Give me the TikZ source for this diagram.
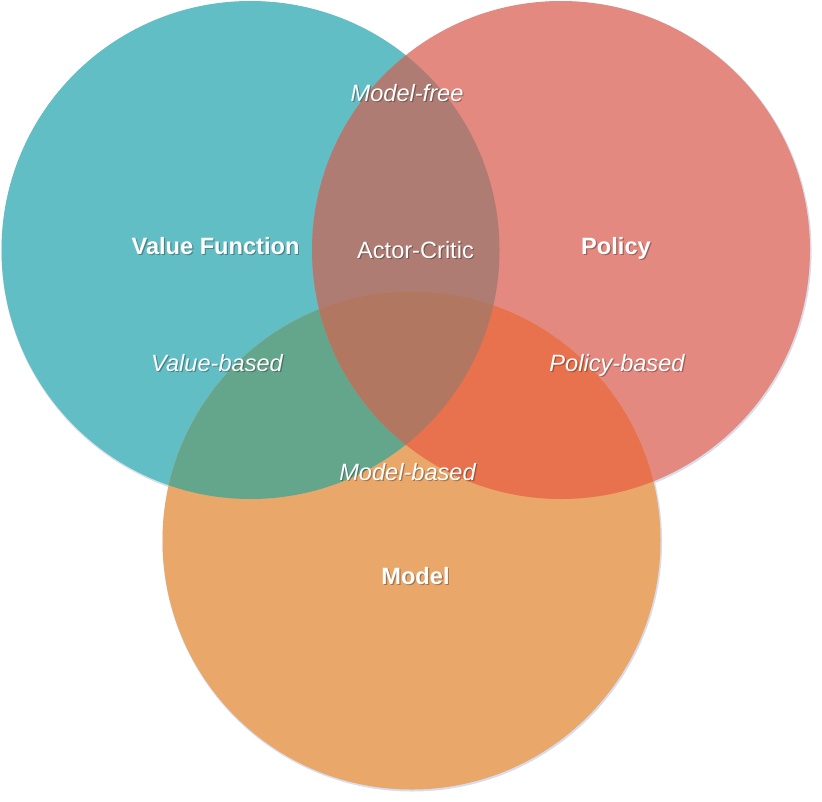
\documentclass[tikz,border=0pt]{standalone}
\usepackage{fontspec}
\setmainfont{Liberation Sans}
\usetikzlibrary{calc}
\definecolor{cT}{HTML}{62BEC5}
\definecolor{cR}{HTML}{E4897F}
\definecolor{cO}{HTML}{E9A76A}
\definecolor{cTR}{HTML}{AE7C73}
\definecolor{cTO}{HTML}{64A68C}
\definecolor{cRO}{HTML}{E7724D}
\definecolor{cTRO}{HTML}{B27760}
\definecolor{cShadow}{HTML}{C9CEE2}
\newcommand\vennfont{\fontsize{23.6bp}{28bp}\selectfont}
\tikzset{
  basetxt/.style={inner sep=0pt, anchor=base, font=\vennfont},
  fg/.style={basetxt, text=white},
  bg/.style={basetxt, text=black, text opacity=0.3},
  bf/.style={font=\vennfont\bfseries},
  it/.style={font=\vennfont\itshape},
  rm/.style={},
  circshadow/.style={fill=cShadow, opacity=0.7},
}
\newcommand\vennlabel[5]{%
  \node[bg,#4] (#1-shadow) at (#2+1.2,#3+1.4) {#5};
  \node[fg,#4] (#1) at (#2,#3) {#5};
}
\begin{document}
\begin{tikzpicture}[x=1bp,y=-1bp]
\useasboundingbox (0,0) rectangle (822,802);
\coordinate (T) at (250.5,250);
\coordinate (R) at (561,250);
\coordinate (O) at (411.5,540.5);
\def\rad{249}
% soft shadows
\foreach \c in {T,R,O}{
  \fill[circshadow] ($(\c)+(0.8,1.2)$) circle (\rad+0.8);
}
% base circles
\fill[cT] (T) circle (\rad);
\fill[cR] (R) circle (\rad);
\fill[cO] (O) circle (\rad);
% pairwise overlaps
\begin{scope}
  \clip (T) circle (\rad);
  \fill[cTR] (R) circle (\rad);
\end{scope}
\begin{scope}
  \clip (T) circle (\rad);
  \fill[cTO] (O) circle (\rad);
\end{scope}
\begin{scope}
  \clip (R) circle (\rad);
  \fill[cRO] (O) circle (\rad);
\end{scope}
% triple overlap
\begin{scope}
  \clip (T) circle (\rad);
  \clip (R) circle (\rad);
  \fill[cTRO] (O) circle (\rad);
\end{scope}
% labels
\vennlabel{modelfree}{407}{101}{it}{Model-free}
\vennlabel{valuefn}{215.5}{254}{bf}{Value Function}
\vennlabel{actorcritic}{415.5}{258}{rm}{Actor-Critic}
\vennlabel{policy}{616}{254}{bf}{Policy}
\vennlabel{valuebased}{217}{371}{it}{Value-based}
\vennlabel{policybased}{617}{371}{it}{Policy-based}
\vennlabel{modelbased}{407.5}{480}{it}{Model-based}
\vennlabel{model}{415.5}{584}{bf}{Model}
\end{tikzpicture}
\end{document}
